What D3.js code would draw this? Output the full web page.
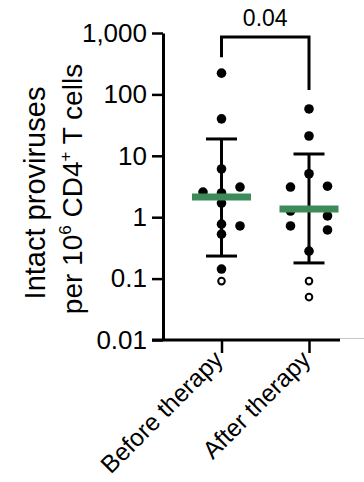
<!doctype html>
<html>
<head>
  <script src="https://d3js.org/d3.v7.min.js"></script>
</head>
<body style="margin:0; background:#fff;">
  <svg id="chart" width="364" height="482"></svg>
  <script>
    // data
    var groups = ["Before therapy", "After therapy"];
    var beforeValues = [222, 40, 6.1, 3.1, 2.57, 2.48, 1.7, 0.77, 0.72, 0.53, 0.143, 0.091];
    var beforeLane   = ["C", "C", "C", "R", "L", "C", "C", "C", "R", "C", "C", "C"];
    var beforeOpen   = [0, 0, 0, 0, 0, 0, 0, 0, 0, 0, 0, 1];
    var afterValues  = [58, 21, 5.1, 3.2, 3.1, 1.26, 1.05, 0.72, 0.62, 0.28, 0.091, 0.05];
    var afterLane    = ["C", "C", "C", "R", "L", "L", "R", "L", "R", "C", "C", "C"];
    var afterOpen    = [0, 0, 0, 0, 0, 0, 0, 0, 0, 0, 1, 1];
    var groupMean = [2.13, 1.36];
    var groupLow  = [0.233, 0.18];
    var groupHigh = [18.8, 10.7];
    var yTicks = [0.01, 0.1, 1, 10, 100, 1000];
    var yTickLabels = ["0.01", "0.1", "1", "10", "100", "1,000"];
    var pLabel = "0.04";

    var svg = d3.select("#chart");
    var font = "'Liberation Sans', Arial, Helvetica, sans-serif";

    var axisX = 163, axisY = 340, axisTop = 33, axisRight = 340;

    var y = d3.scaleLog().domain([0.01, 1000]).range([axisY, axisTop]);
    var x = d3.scalePoint().domain(groups).range([221.5, 309]);
    var lane = d3.scalePoint().domain(["L", "C", "R"]).range([-18.5, 18.5]);

    var points = [];
    beforeValues.forEach(function (v, i) {
      points.push({ g: groups[0], v: v, lane: beforeLane[i], open: beforeOpen[i] });
    });
    afterValues.forEach(function (v, i) {
      points.push({ g: groups[1], v: v, lane: afterLane[i], open: afterOpen[i] });
    });

    // y axis
    var yAxis = d3.axisLeft(y)
      .tickValues(yTicks)
      .tickFormat(function (d, i) { return yTickLabels[i]; })
      .tickSize(11)
      .tickSizeOuter(0)
      .tickPadding(5);
    var gy = svg.append("g").attr("transform", "translate(" + axisX + ",0)").call(yAxis);
    gy.select(".domain").attr("stroke", "#000").attr("stroke-width", 3);
    gy.selectAll(".tick line").attr("stroke", "#000").attr("stroke-width", 2.5);
    gy.selectAll(".tick text")
      .attr("font-family", font).attr("font-size", 26).attr("fill", "#000");

    // x axis
    svg.append("line")
      .attr("x1", axisRight).attr("x2", 364)
      .attr("y1", axisY - 1.5).attr("y2", axisY - 1.5)
      .attr("stroke", "#c8c8c8").attr("stroke-width", 1);
    svg.append("line")
      .attr("x1", axisX - 11).attr("x2", axisRight)
      .attr("y1", axisY).attr("y2", axisY)
      .attr("stroke", "#000").attr("stroke-width", 3);
    var xAxis = d3.axisBottom(x).tickSize(13).tickSizeOuter(0).tickFormat("");
    var gx = svg.append("g").attr("transform", "translate(0," + axisY + ")").call(xAxis);
    gx.select(".domain").remove();
    gx.selectAll(".tick line").attr("stroke", "#000").attr("stroke-width", 2.5);

    svg.append("g").selectAll("text")
      .data(groups)
      .enter().append("text")
      .attr("transform", function (d) {
        return "translate(" + (x(d) + 3) + "," + (axisY + 21) + ") rotate(-45)";
      })
      .attr("text-anchor", "end")
      .attr("font-family", font)
      .attr("font-size", 24.5)
      .text(function (d) { return d; });

    // y axis title
    var title = svg.append("text")
      .attr("transform", "translate(45,193) rotate(-90)")
      .attr("text-anchor", "middle")
      .attr("font-family", font)
      .attr("font-size", 29);
    title.append("tspan").attr("x", 0).attr("dy", 0).text("Intact proviruses");
    var t2 = svg.append("text")
      .attr("transform", "translate(82,189) rotate(-90)")
      .attr("text-anchor", "middle")
      .attr("font-family", font)
      .attr("font-size", 28);
    t2.append("tspan").text("per 10");
    t2.append("tspan").attr("font-size", 17).attr("dy", -11).text("6");
    t2.append("tspan").attr("dy", 11).text(" CD4");
    t2.append("tspan").attr("font-size", 17).attr("dy", -11).text("+");
    t2.append("tspan").attr("dy", 11).text(" T cells");

    // dots
    svg.append("g").selectAll("circle")
      .data(points)
      .enter().append("circle")
      .attr("cx", function (d) { return x(d.g) + lane(d.lane); })
      .attr("cy", function (d) { return y(d.v); })
      .attr("r", function (d) { return d.open ? 3.3 : 4.8; })
      .attr("fill", function (d) { return d.open ? "#fff" : "#000"; })
      .attr("stroke", "#000")
      .attr("stroke-width", function (d) { return d.open ? 2 : 0; });

    // error bars
    var eb = svg.append("g").selectAll("g")
      .data(groups)
      .enter().append("g");
    eb.append("line")
      .attr("x1", function (d) { return x(d); })
      .attr("x2", function (d) { return x(d); })
      .attr("y1", function (d, i) { return y(groupLow[i]); })
      .attr("y2", function (d, i) { return y(groupHigh[i]); })
      .attr("stroke", "#000").attr("stroke-width", 3);
    [groupLow, groupHigh].forEach(function (arr) {
      eb.append("line")
        .attr("x1", function (d) { return x(d) - 15.5; })
        .attr("x2", function (d) { return x(d) + 15.5; })
        .attr("y1", function (d, i) { return y(arr[i]); })
        .attr("y2", function (d, i) { return y(arr[i]); })
        .attr("stroke", "#000").attr("stroke-width", 3);
    });
    eb.append("line")
      .attr("x1", function (d) { return x(d) - 29.5; })
      .attr("x2", function (d) { return x(d) + 29.5; })
      .attr("y1", function (d, i) { return y(groupMean[i]); })
      .attr("y2", function (d, i) { return y(groupMean[i]); })
      .attr("stroke", "#3d8b5a").attr("stroke-width", 7);

    // significance bracket
    var bracketY = 37;
    var legEnd = [
      y(d3.max(beforeValues)) - 16,
      y(d3.max(afterValues)) - 19
    ];
    svg.append("path")
      .attr("d", "M" + x(groups[0]) + "," + legEnd[0] +
                 "V" + bracketY + "H" + x(groups[1]) + "V" + legEnd[1])
      .attr("fill", "none").attr("stroke", "#000").attr("stroke-width", 3);
    svg.append("text")
      .attr("x", (x(groups[0]) + x(groups[1])) / 2)
      .attr("y", 26)
      .attr("text-anchor", "middle")
      .attr("font-family", font)
      .attr("font-size", 23)
      .text(pLabel);
  </script>
</body>
</html>
